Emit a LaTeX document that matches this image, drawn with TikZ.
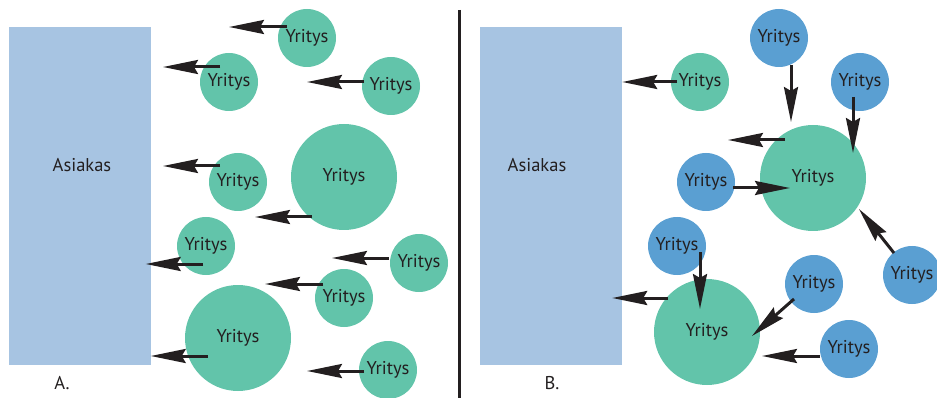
\documentclass[tikz,border=0pt]{standalone}
\usepackage{fontspec}
\setmainfont{PT Sans}
\usetikzlibrary{positioning, arrows.meta}
\definecolor{firmgreen}{HTML}{62C4AA}
\definecolor{firmblue}{HTML}{5A9FD2}
\definecolor{clientblue}{HTML}{A7C4E2}
\definecolor{ink}{HTML}{231F20}

\begin{document}
\begin{tikzpicture}[x=1pt, y=-1pt, font=\fontsize{18.5}{21}\selectfont, text=ink,
  firm/.style={circle, fill=firmgreen, minimum size=58pt, inner sep=0pt},
  bigfirm/.style={firm, minimum size=106pt},
  subfirm/.style={firm, fill=firmblue},
  client/.style={fill=clientblue, minimum width=142pt, minimum height=338pt, inner sep=0pt},
  arr/.style={draw=ink, line width=3pt, -{Stealth[length=35pt, width=14pt, inset=4pt]}}]
  \useasboundingbox (0,0) rectangle (937,398);

  \node[client] (clientA) at (79.5,196) {};
  \node (nameA) at (82,165) {Asiakas};
  \node (labelA) at (62,383) {A.};

  \node[firm]    (c1)  at (307,38)  {Yritys};
  \node[firm]    (c2)  at (229,82)  {Yritys};
  \node[firm]    (c3)  at (391,86)  {Yritys};
  \node[firm]    (c4)  at (238,182) {Yritys};
  \node[bigfirm] (c5)  at (344,177) {Yritys};
  \node[firm]    (c6)  at (206,246) {Yritys};
  \node[firm]    (c7)  at (419,263) {Yritys};
  \node[firm]    (c8)  at (344,298) {Yritys};
  \node[bigfirm] (c9)  at (238,338) {Yritys};
  \node[firm]    (c10) at (388,370) {Yritys};

  \coordinate (t1)  at (229,27);
  \coordinate (t2)  at (163,67);
  \coordinate (t3)  at (307,82);
  \coordinate (t4)  at (163,166);
  \coordinate (t5)  at (255,217);
  \coordinate (t7)  at (332,258);
  \coordinate (t8)  at (265,284);
  \coordinate (t10) at (307,371);

  \draw[arr] ([shift={(-20,-11)}]c1.center)  -- (t1);
  \draw[arr] ([shift={(-9,-15)}]c2.center)   -- (t2);
  \draw[arr] ([shift={(-27,-4)}]c3.center)   -- (t3);
  \draw[arr] ([shift={(-18,-16)}]c4.center)  -- (t4);
  \draw[arr] ([shift={(-32,40)}]c5.center)   -- (t5);
  \draw[arr] ([shift={(-3,18)}]c6.center)    -- ([shift={(-5,68)}]clientA.east);
  \draw[arr] ([shift={(-30,-5)}]c7.center)   -- (t7);
  \draw[arr] ([shift={(-21,-14)}]c8.center)  -- (t8);
  \draw[arr] ([shift={(-30,18)}]c9.center)   -- ([shift={(0,160)}]clientA.east);
  \draw[arr] ([shift={(-24,1)}]c10.center)   -- (t10);

  \draw[ink, line width=3pt] (459,10) -- (459,398);

  \node[client] (clientB) at (551,196) {};
  \node (nameB) at (537,165) {Asiakas};
  \node (labelB) at (552,383) {B.};

  \node[firm]    (g1) at (700,82)  {Yritys};
  \node[bigfirm] (g2) at (813,178) {Yritys};
  \node[bigfirm] (g3) at (707,332) {Yritys};
  \node[subfirm] (b1) at (779,38)  {Yritys};
  \node[subfirm] (b2) at (860,82)  {Yritys};
  \node[subfirm] (b3) at (706,182) {Yritys};
  \node[subfirm] (b4) at (677,246) {Yritys};
  \node[subfirm] (b5) at (912,275) {Yritys};
  \node[subfirm] (b6) at (814,284) {Yritys};
  \node[subfirm] (b7) at (849,349) {Yritys};

  \coordinate (t11) at (728,140);

  \draw[arr] ([shift={(-23,0)}]g1.center)   -- ([shift={(0,-114)}]clientB.east);
  \draw[arr] ([shift={(12,27)}]b1.center)   -- ([shift={(-22,-56)}]g2.center);
  \draw[arr] ([shift={(-7,15)}]b2.center)   -- ([shift={(40,-25)}]g2.center);
  \draw[arr] ([shift={(-28,-38)}]g2.center) -- (t11);
  \draw[arr] ([shift={(27,6)}]b3.center)    -- ([shift={(-23,10)}]g2.center);
  \draw[arr] ([shift={(-18,-22)}]b5.center) -- ([shift={(46,31)}]g2.center);
  \draw[arr] ([shift={(23,6)}]b4.center)    -- ([shift={(-7,-23)}]g3.center);
  \draw[arr] ([shift={(-39,-34)}]g3.center) -- ([shift={(-10,102)}]clientB.east);
  \draw[arr] ([shift={(-20,15)}]b6.center)  -- ([shift={(45,4)}]g3.center);
  \draw[arr] ([shift={(-29,7)}]b7.center)   -- ([shift={(55,24)}]g3.center);
\end{tikzpicture}
\end{document}
